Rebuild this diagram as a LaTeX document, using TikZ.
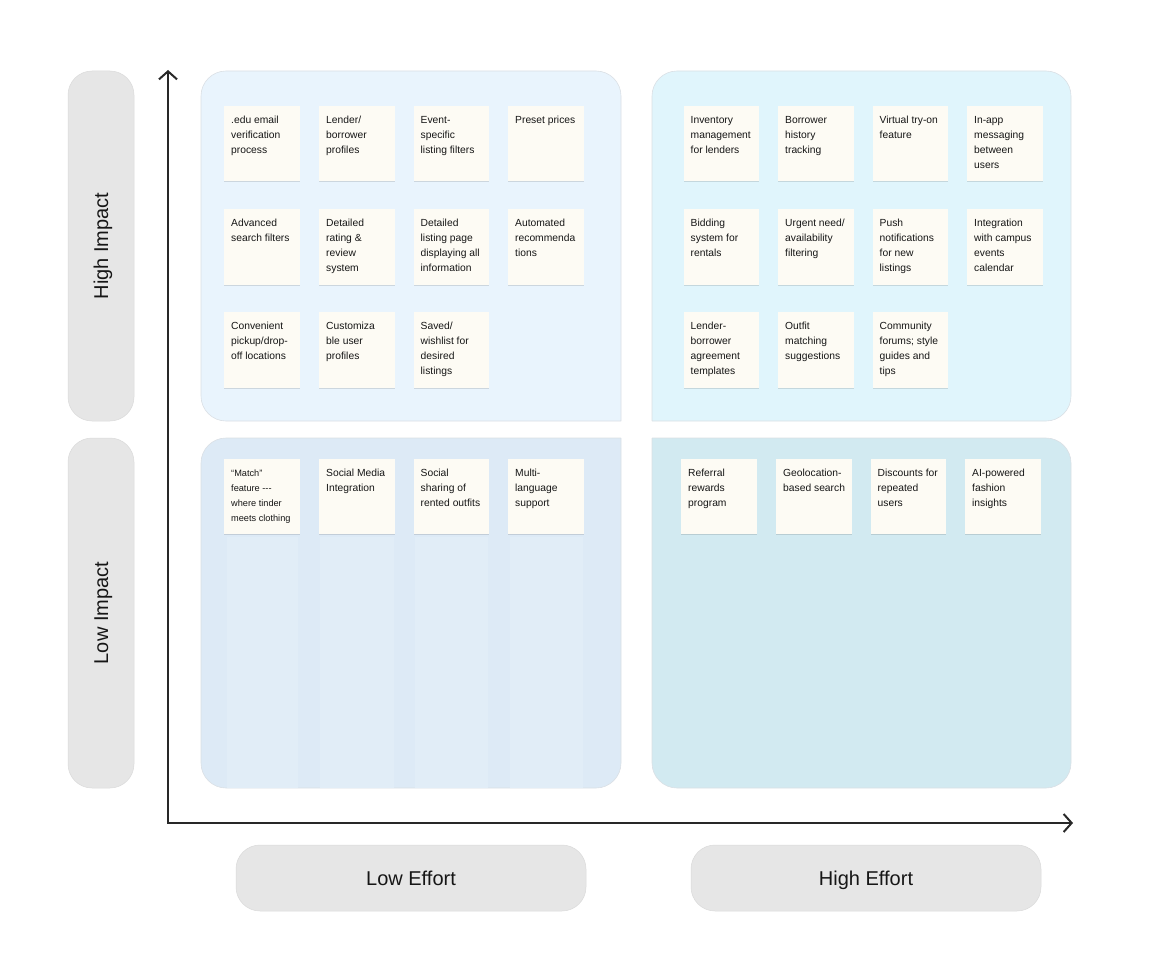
\documentclass[tikz,border=0pt]{standalone}
\usepackage{fontspec}
\setmainfont{Liberation Sans}
\usetikzlibrary{arrows.meta,shadows}
\definecolor{tlc}{RGB}{233,244,253}
\definecolor{trc}{RGB}{224,245,252}
\definecolor{blc}{RGB}{221,234,246}
\definecolor{brc}{RGB}{210,234,241}
\definecolor{stripec}{RGB}{225,237,247}
\definecolor{panelline}{RGB}{218,223,228}
\definecolor{stickyc}{RGB}{253,251,244}
\definecolor{pillc}{RGB}{230,230,230}
\definecolor{pillline}{RGB}{218,218,218}
\definecolor{inkc}{RGB}{22,22,22}
\definecolor{axisc}{RGB}{40,40,40}
\tikzset{
  panel/.style={draw=panelline,line width=0.6pt},
  stickybox/.style={anchor=north west,minimum width=75.5pt,minimum height=75.5pt,inner sep=0pt,
    fill=stickyc,drop shadow={shadow xshift=0pt,shadow yshift=-1.2pt,fill=black,opacity=0.12}},
  stickytxt/.style={anchor=north west,inner sep=0pt,text=inkc,font=\fontsize{10.3}{15}\selectfont},
  pill/.style={fill=pillc,draw=pillline,line width=0.5pt,rounded corners=24pt,text=inkc,
    font=\fontsize{20}{24}\selectfont,inner sep=0pt,text height=14.3pt,text depth=0pt},
  axis/.style={draw=axisc,line width=2pt,line join=miter}
}
\newcommand\sticky[5][]{%
  \node[stickybox] (#2) at (#3,-#4) {};
  \node[stickytxt] (#2t) at ([xshift=7pt,yshift=-7pt]#2.north west)
    {\parbox[t]{74pt}{\raggedright#1\strut #5}};
}
\begin{document}
\begin{tikzpicture}[x=1pt,y=1pt]
\useasboundingbox (0,0) rectangle (1164,-958);
% panels
\fill[tlc] (621,-421) -- (226,-421) arc[start angle=270,end angle=180,radius=25pt]
  -- (201,-96) arc[start angle=180,end angle=90,radius=25pt]
  -- (596,-71) arc[start angle=90,end angle=0,radius=25pt] -- cycle;
\draw[panel] (621,-421) -- (226,-421) arc[start angle=270,end angle=180,radius=25pt]
  -- (201,-96) arc[start angle=180,end angle=90,radius=25pt]
  -- (596,-71) arc[start angle=90,end angle=0,radius=25pt] -- (621,-421);
\fill[trc] (652,-421) -- (652,-96) arc[start angle=180,end angle=90,radius=25pt]
  -- (1046,-71) arc[start angle=90,end angle=0,radius=25pt]
  -- (1071,-396) arc[start angle=0,end angle=-90,radius=25pt] -- cycle;
\draw[panel] (652,-421) -- (652,-96) arc[start angle=180,end angle=90,radius=25pt]
  -- (1046,-71) arc[start angle=90,end angle=0,radius=25pt]
  -- (1071,-396) arc[start angle=0,end angle=-90,radius=25pt] -- (652,-421);
\fill[blc] (621,-438) -- (226,-438) arc[start angle=90,end angle=180,radius=25pt]
  -- (201,-763) arc[start angle=180,end angle=270,radius=25pt]
  -- (596,-788) arc[start angle=270,end angle=360,radius=25pt] -- cycle;
\draw[panel] (621,-438) -- (226,-438) arc[start angle=90,end angle=180,radius=25pt]
  -- (201,-763) arc[start angle=180,end angle=270,radius=25pt]
  -- (596,-788) arc[start angle=270,end angle=360,radius=25pt] -- (621,-438);
\fill[brc] (652,-438) -- (652,-763) arc[start angle=180,end angle=270,radius=25pt]
  -- (1046,-788) arc[start angle=270,end angle=360,radius=25pt]
  -- (1071,-463) arc[start angle=0,end angle=90,radius=25pt] -- cycle;
\draw[panel] (652,-438) -- (652,-763) arc[start angle=180,end angle=270,radius=25pt]
  -- (1046,-788) arc[start angle=270,end angle=360,radius=25pt]
  -- (1071,-463) arc[start angle=0,end angle=90,radius=25pt] -- (652,-438);
% faint stripes under low-impact / low-effort notes
\fill[stripec] (227,-537) rectangle (298,-788);
\fill[stripec] (320,-537) rectangle (394,-788);
\fill[stripec] (415,-537) rectangle (488,-788);
\fill[stripec] (510,-537) rectangle (583,-788);
% High impact, low effort
\sticky{a1}{224}{105.5}{.edu email\\verification\\process}
\sticky{a2}{319}{105.5}{Lender/\\borrower\\profiles}
\sticky{a3}{413.5}{105.5}{Event-\\specific\\listing filters}
\sticky{a4}{508}{105.5}{Preset prices}
\sticky{a5}{224}{209}{Advanced\\search filters}
\sticky{a6}{319}{209}{Detailed\\rating \&\\review\\system}
\sticky{a7}{413.5}{209}{Detailed\\listing page\\displaying all\\information}
\sticky{a8}{508}{209}{Automated\\recommenda\\tions}
\sticky{a9}{224}{312}{Convenient\\pickup/drop-\\off locations}
\sticky{a10}{319}{312}{Customiza\\ble user\\profiles}
\sticky{a11}{413.5}{312}{Saved/\\wishlist for\\desired\\listings}
% High impact, high effort
\sticky{b1}{683.5}{105.5}{Inventory\\management\\for lenders}
\sticky{b2}{778}{105.5}{Borrower\\history\\tracking}
\sticky{b3}{872.5}{105.5}{Virtual try-on\\feature}
\sticky{b4}{967}{105.5}{In-app\\messaging\\between\\users}
\sticky{b5}{683.5}{209}{Bidding\\system for\\rentals}
\sticky{b6}{778}{209}{Urgent need/\\availability\\filtering}
\sticky{b7}{872.5}{209}{Push\\notifications\\for new\\listings}
\sticky{b8}{967}{209}{Integration\\with campus\\events\\calendar}
\sticky{b9}{683.5}{312}{Lender-\\borrower\\agreement\\templates}
\sticky{b10}{778}{312}{Outfit\\matching\\suggestions}
\sticky{b11}{872.5}{312}{Community\\forums; style\\guides and\\tips}
% Low impact, low effort
\sticky[\fontsize{9.2}{15.2}\selectfont]{c1}{224}{458.3}{“Match”\\feature -{}-{}-\\where tinder\\meets clothing}
\sticky{c2}{319}{458.3}{Social Media\\Integration}
\sticky{c3}{413.5}{458.3}{Social\\sharing of\\rented outfits}
\sticky{c4}{508}{458.3}{Multi-\\language\\support}
% Low impact, high effort
\sticky{d1}{681}{458.3}{Referral\\rewards\\program}
\sticky{d2}{776}{458.3}{Geolocation-\\based search}
\sticky{d3}{870.5}{458.3}{Discounts for\\repeated\\users}
\sticky{d4}{965}{458.3}{AI-powered\\fashion\\insights}
% axes
\coordinate (ytop) at (168,-70);
\coordinate (origin) at (168,-823);
\coordinate (xend) at (1073,-823);
\draw[axis,{Straight Barb[length=8pt,width=18pt]}-{Straight Barb[length=8pt,width=18pt]}]
  (ytop) -- (origin) -- (xend);
% axis labels
\node[pill,rotate=90,minimum width=350pt,minimum height=66pt] (hi) at (101,-246) {High Impact};
\node[pill,rotate=90,minimum width=350pt,minimum height=66pt] (lo) at (101,-613) {Low Impact};
\node[pill,minimum width=350pt,minimum height=66pt] (le) at (411,-878) {Low Effort};
\node[pill,minimum width=350pt,minimum height=66pt] (he) at (866,-878) {High Effort};
\end{tikzpicture}
\end{document}
